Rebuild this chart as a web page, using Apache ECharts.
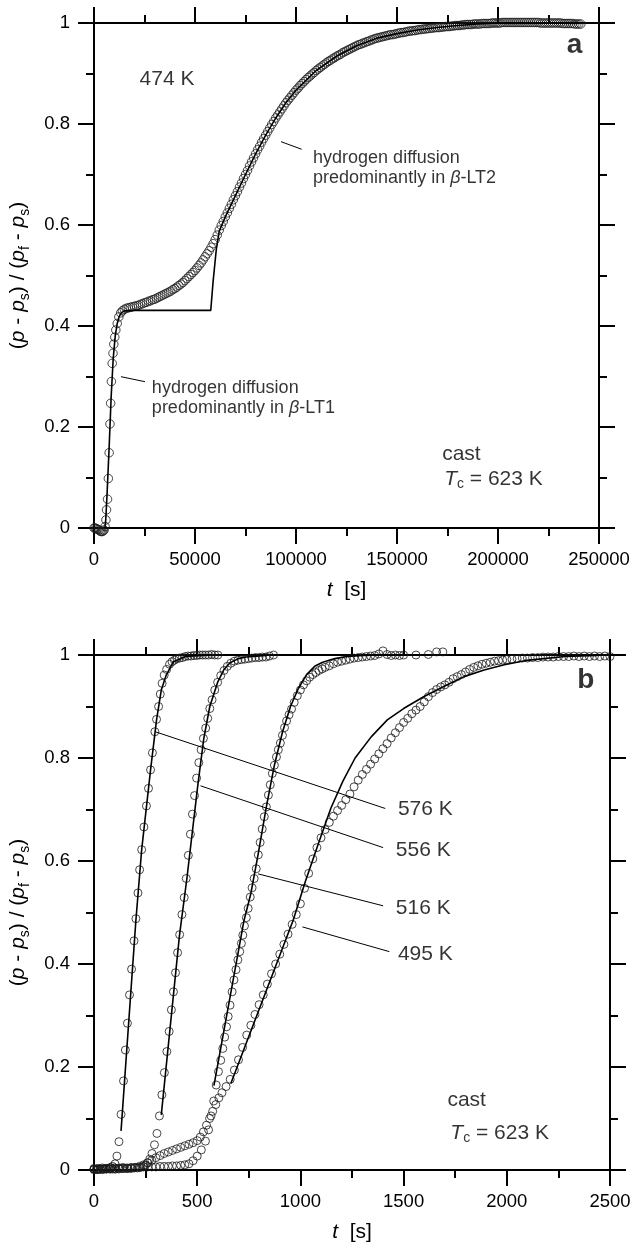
<!DOCTYPE html>
<html><head><meta charset="utf-8">
<script src="https://cdn.jsdelivr.net/npm/echarts@6/dist/echarts.min.js"></script>
<style>html,body{margin:0;padding:0;background:#fff}#c{width:632px;height:1247px}</style>
</head><body><div id="c"></div>
<script>
// ---------------- Panel a data (t in s, normalized pressure) ----------------
const circlesA = [
[0,0],[500,0],[1000,-0.001],[1500,-0.002],[2000,-0.003],[2500,-0.004],[3000,-0.006],[3500,-0.007],[4000,-0.007],[4500,-0.006],[5000,-0.004],[5500,0.003],[5900,0.016],[6200,0.036],[6700,0.057],[7100,0.098],[7500,0.149],[7900,0.206],[8250,0.247],[8600,0.29],[9000,0.326],[9400,0.346],[9800,0.364],[10300,0.378],[10800,0.392],[11500,0.405],[12300,0.418],[13200,0.426],[14000,0.430],
[15000,0.433],[16000,0.435],[17000,0.436],[18000,0.437],[19000,0.438],[20000,0.439],[21000,0.440],[22000,0.441],[23000,0.443],[24000,0.444],[25000,0.446],[26000,0.447],[27000,0.449],[28000,0.450],[29000,0.452],[30000,0.453],[31000,0.455],[32000,0.457],[33000,0.459],[34000,0.461],[35000,0.463],[36000,0.465],[37000,0.467],[38000,0.469],[39000,0.472],[40000,0.474],[41000,0.477],[42000,0.480],[43000,0.483],[44000,0.486],[45000,0.490],[46000,0.494],[47000,0.498],[48000,0.502],[49000,0.506],[50000,0.510],[51000,0.515],[52000,0.520],[53000,0.525],[54000,0.531],[55000,0.537],[56000,0.543],[57000,0.549],[58000,0.556],[59000,0.563],[60000,0.571],[61000,0.580],[62000,0.590],
[63000,0.599],[64000,0.607],[65000,0.616],[66000,0.624],[67000,0.633],[68000,0.641],[69000,0.650],[70000,0.658],[71000,0.666],[72000,0.675],[73000,0.683],[74000,0.692],[75000,0.700],[76000,0.708],[77000,0.717],[78000,0.725],[79000,0.733],[80000,0.741],[81000,0.749],[82000,0.756],[83000,0.764],[84000,0.771],[85000,0.778],[86000,0.785],[87000,0.792],[88000,0.799],[89000,0.805],[90000,0.812],[91000,0.818],[92000,0.824],[93000,0.830],[94000,0.836],[95000,0.842],[96000,0.847],[97000,0.852],[98000,0.857],[99000,0.862],[100000,0.867],[101000,0.871],[102000,0.876],[103000,0.880],[104000,0.884],[105000,0.888],[106000,0.892],[107000,0.895],[108000,0.899],[109000,0.902],[110000,0.906],[111000,0.909],[112000,0.912],[113000,0.915],[114000,0.918],[115000,0.921],[116000,0.924],[117000,0.926],[118000,0.929],[119000,0.931],[120000,0.934],[121000,0.936],[122000,0.938],[123000,0.941],[124000,0.943],[125000,0.945],[126000,0.947],[127000,0.949],[128000,0.951],[129000,0.953],[130000,0.955],[131000,0.957],[132000,0.958],[133000,0.960],[134000,0.961],[135000,0.963],[136000,0.964],[137000,0.966],[138000,0.967],[139000,0.969],[140000,0.970],[141000,0.971],[142000,0.972],[143000,0.973],[144000,0.974],[145000,0.975],[146000,0.976],[147000,0.977],[148000,0.977],[149000,0.978],[150000,0.979],[151000,0.980],[152000,0.981],[153000,0.981],[154000,0.982],[155000,0.983],[156000,0.984],[157000,0.984],[158000,0.985],[159000,0.985],[160000,0.986],[161000,0.987],[162000,0.987],[163000,0.988],[164000,0.988],[165000,0.989],[166000,0.989],[167000,0.990],[168000,0.990],[169000,0.991],[170000,0.991],[171000,0.991],[172000,0.992],[173000,0.992],[174000,0.993],[175000,0.993],[176000,0.993],[177000,0.994],[178000,0.994],[179000,0.995],[180000,0.995],[181000,0.995],[182000,0.996],[183000,0.996],[184000,0.997],[185000,0.997],[186000,0.997],[187000,0.997],[188000,0.998],[189000,0.998],[190000,0.998],[191000,0.998],[192000,0.999],[193000,0.999],[194000,0.999],[195000,0.999],[196000,0.999],[197000,1.000],[198000,1.000],[199000,1.000],[200000,1.000],[201000,1.000],[202000,1.001],[203000,1.001],[204000,1.001],[205000,1.001],[206000,1.001],[207000,1.001],[208000,1.001],[209000,1.001],[210000,1.001],[211000,1.001],[212000,1.001],[213000,1.001],[214000,1.001],[215000,1.001],[216000,1.001],[217000,1.001],[218000,1.001],[219000,1.001],[220000,1.001],[221000,1.000],[222000,1.000],[223000,1.000],[224000,1.000],[225000,1.000],[226000,1.000],[227000,1.000],[228000,1.000],[229000,1.000],[230000,1.000],[231000,1.000],[232000,0.999],[233000,0.999],[234000,0.999],[235000,0.999],[236000,0.999],[237000,0.999],[238000,0.998],[239000,0.998],[240000,0.998],[241000,0.998]
];
const fitA = [[5400,0],[5800,0.015],[6500,0.07],[7500,0.16],[8500,0.26],[9500,0.335],[10500,0.38],[11500,0.405],[12500,0.419],[13500,0.426],[15000,0.43],[20000,0.431],[57800,0.431],[59000,0.49],[60500,0.55],[62000,0.588],[65000,0.616],[70000,0.658],[75000,0.700],[80000,0.741],[85000,0.778],[90000,0.812],[95000,0.842],[100000,0.867],[110000,0.906],[120000,0.934],[130000,0.955],[140000,0.970],[150000,0.979],[160000,0.986],[170000,0.991],[180000,0.995],[190000,0.998],[200000,1.0],[240000,1.0]];
const leadersA = [[[92574,0.765],[102822,0.750]],[[13366,0.2996],[25248,0.2897]]];
const notesA = [
  {t:22300, v:0.889, text:'474 K', size:21},
  {t:108200, v:0.712, text:'hydrogen diffusion\npredominantly in {i|β}-LT2', size:18},
  {t:28400, v:0.257, text:'hydrogen diffusion\npredominantly in {i|β}-LT1', size:18},
  {t:172100, v:0.147, text:'cast', size:21},
  {t:173100, v:0.096, text:'{i|T}{s|c} = 623 K', size:21}
];
const panelLabelA = {t:242000, v:0.956, text:'a'};

// ---------------- Panel b data ----------------
const b576 = [[0,0.001],[10,0.001],[20,0.001],[30,0.002],[40,0.002],[50,0.002],[60,0.003],[70,0.003],[80,0.005],[90,0.007],[102,0.012],[111,0.027],[121,0.055],[131,0.108],[143,0.173],[152,0.233],[162,0.285],[172,0.34],[182,0.39],[194,0.445],[203,0.488],[213,0.538],[221,0.583],[231,0.622],[242,0.666],[254,0.707],[264,0.741],[274,0.777],[283,0.81],[295,0.851],[303,0.875],[313,0.9],[321,0.924],[330,0.945],[340,0.961],[352,0.972],[366,0.982],[378,0.987],[390,0.990],[402,0.993],[414,0.994],[428,0.995],[442,0.997],[456,0.998],[470,0.998],[484,0.999],[498,0.999],[512,1.0],[526,1.0],[540,1.0],[555,1.0],[570,1.001],[585,1.0],[600,1.0]];
const b556 = [[0,0.002],[15,0.002],[30,0.002],[45,0.002],[60,0.002],[75,0.002],[90,0.002],[105,0.002],[120,0.003],[135,0.003],[150,0.003],[165,0.003],[180,0.003],[195,0.004],[210,0.004],[225,0.005],[240,0.007],[250,0.010],[260,0.014],[270,0.021],[281,0.032],[293,0.049],[305,0.071],[317,0.105],[329,0.146],[341,0.189],[353,0.23],[364,0.269],[375,0.311],[385,0.346],[395,0.383],[405,0.422],[415,0.457],[426,0.496],[437,0.529],[447,0.566],[457,0.611],[467,0.652],[477,0.691],[487,0.727],[497,0.761],[508,0.791],[519,0.816],[530,0.838],[541,0.858],[551,0.877],[561,0.896],[572,0.913],[585,0.932],[599,0.947],[614,0.960],[630,0.970],[646,0.978],[663,0.984],[680,0.988],[697,0.990],[714,0.991],[731,0.992],[748,0.993],[765,0.994],[782,0.995],[799,0.995],[816,0.996],[833,0.996],[850,0.998],[870,1.0]];
const b516 = [[0,0.003],[20,0.003],[40,0.004],[60,0.003],[80,0.004],[100,0.004],[120,0.004],[140,0.005],[160,0.004],[180,0.005],[200,0.005],[220,0.005],[240,0.006],[260,0.006],[280,0.006],[300,0.006],[320,0.007],[340,0.007],[360,0.007],[380,0.008],[400,0.008],[420,0.009],[440,0.010],[460,0.012],[480,0.018],[500,0.027],[520,0.039],[540,0.056],[555,0.078],[567,0.105],[580,0.134],[592,0.165],[603,0.191],[614,0.213],[624,0.236],[633,0.258],[642,0.278],[650,0.298],[659,0.32],[669,0.346],[678,0.369],[688,0.389],[697,0.408],[706,0.424],[714,0.44],[721,0.456],[729,0.474],[738,0.49],[747,0.508],[757,0.530],[766,0.548],[776,0.566],[786,0.585],[796,0.612],[805,0.636],[815,0.662],[825,0.686],[835,0.705],[845,0.728],[854,0.748],[864,0.77],[874,0.786],[884,0.802],[893,0.816],[903,0.829],[913,0.844],[923,0.859],[933,0.872],[945,0.884],[957,0.895],[970,0.908],[985,0.921],[1000,0.932],[1015,0.942],[1030,0.950],[1045,0.957],[1060,0.962],[1075,0.966],[1090,0.970],[1105,0.973],[1120,0.976],[1140,0.979],[1160,0.983],[1180,0.986],[1200,0.988],[1220,0.990],[1240,0.992],[1260,0.994],[1280,0.995],[1300,0.996],[1320,0.997],[1340,0.998],[1360,0.999],[1380,1.002],[1400,1.008],[1420,1.001],[1440,0.999],[1460,1.0],[1480,0.999],[1500,1.0],[1560,1.0],[1620,1.001],[1660,1.006],[1690,1.006]];
const b495 = [[0,0.001],[20,0.001],[40,0.001],[60,0.002],[80,0.002],[100,0.002],[120,0.002],[140,0.003],[160,0.003],[180,0.004],[200,0.005],[220,0.007],[240,0.010],[260,0.014],[280,0.019],[300,0.024],[320,0.028],[340,0.032],[360,0.035],[380,0.038],[400,0.041],[420,0.044],[440,0.047],[460,0.050],[480,0.053],[500,0.057],[515,0.064],[530,0.074],[545,0.087],[560,0.100],[575,0.114],[590,0.127],[605,0.140],[620,0.150],[640,0.162],[660,0.176],[680,0.194],[700,0.214],[720,0.238],[740,0.262],[760,0.281],[780,0.302],[800,0.321],[820,0.340],[840,0.361],[860,0.381],[880,0.400],[900,0.419],[920,0.438],[940,0.458],[960,0.477],[980,0.496],[1000,0.517],[1020,0.547],[1040,0.576],[1060,0.604],[1080,0.626],[1100,0.645],[1120,0.661],[1140,0.675],[1160,0.687],[1180,0.698],[1200,0.708],[1220,0.719],[1240,0.730],[1260,0.744],[1280,0.757],[1300,0.768],[1320,0.778],[1340,0.788],[1360,0.798],[1380,0.808],[1400,0.818],[1420,0.828],[1440,0.839],[1460,0.849],[1480,0.859],[1500,0.869],[1520,0.877],[1540,0.886],[1560,0.893],[1580,0.900],[1600,0.909],[1620,0.919],[1640,0.927],[1660,0.933],[1680,0.938],[1700,0.942],[1720,0.947],[1740,0.954],[1760,0.958],[1780,0.962],[1800,0.967],[1820,0.972],[1840,0.976],[1860,0.979],[1880,0.982],[1900,0.984],[1920,0.986],[1940,0.988],[1960,0.989],[1980,0.990],[2000,0.991],[2025,0.992],[2050,0.993],[2075,0.994],[2100,0.994],[2125,0.995],[2150,0.995],[2175,0.996],[2200,0.996],[2225,0.996],[2250,0.997],[2275,0.997],[2300,0.997],[2325,0.998],[2350,0.997],[2375,0.998],[2400,0.997],[2425,0.998],[2450,0.997],[2475,0.998],[2500,0.997]];
const fit576 = [[131,0.076],[203,0.485],[231,0.622],[274,0.777],[303,0.874],[326,0.932],[350,0.961],[385,0.987],[444,0.997],[561,1.0]];
const fit556 = [[326,0.107],[414,0.455],[450,0.566],[502,0.744],[532,0.838],[561,0.9],[600,0.948],[630,0.972],[659,0.985],[700,0.993],[737,0.996],[835,0.999]];
const fit516 = [[581,0.164],[727,0.485],[760,0.537],[796,0.615],[835,0.705],[874,0.786],[913,0.85],[952,0.9],[990,0.935],[1030,0.962],[1069,0.978],[1108,0.986],[1167,0.993],[1226,0.997],[1304,0.999],[1402,1.0],[1500,1.0]];
const fit495 = [[663,0.168],[965,0.485],[1024,0.56],[1089,0.636],[1148,0.703],[1206,0.755],[1265,0.8],[1343,0.841],[1421,0.874],[1500,0.896],[1597,0.919],[1695,0.939],[1793,0.958],[1890,0.971],[1988,0.981],[2086,0.989],[2281,0.997],[2440,0.999]];
const leadersB = [[[297,0.851],[1411,0.702]],[[516,0.746],[1401,0.626]],[[795,0.575],[1401,0.513]],[[1010,0.472],[1431,0.424]]];
const notesB = [
  {t:1470, v:0.701, text:'576 K', size:21},
  {t:1460, v:0.621, text:'556 K', size:21},
  {t:1460, v:0.509, text:'516 K', size:21},
  {t:1470, v:0.419, text:'495 K', size:21},
  {t:1710, v:0.135, text:'cast', size:21},
  {t:1724, v:0.071, text:'{i|T}{s|c} = 623 K', size:21}
];
const panelLabelB = {t:2427, v:0.951, text:'b'};

const xTicksA = {min:0, max:250000, interval:50000};
const xTicksB = {min:0, max:2500, interval:500};
const yTicks = {min:0, max:1, interval:0.2};

// ---------------- styling ----------------
const FONT = "'Liberation Sans', Arial, Helvetica, sans-serif";
const BLACK = '#000';
const richTitle = {
  i: {fontStyle:'italic', fontSize:21, fontFamily:FONT, color:BLACK, lineHeight:28},
  s: {fontSize:14, fontFamily:FONT, color:BLACK, lineHeight:14, verticalAlign:'bottom'}
};
const yName = '({i|p} - {i|p}{s|s}) / ({i|p}{s|f} - {i|p}{s|s})';

function axisCommon(ticks, showLabel, fmt) {
  return {
    type:'value', min:ticks.min, max:ticks.max, interval:ticks.interval,
    axisLine:{show:true, onZero:false, lineStyle:{color:BLACK, width:2}},
    axisTick:{show:true, inside:false, length:16, lineStyle:{color:BLACK, width:2}},
    minorTick:{show:true, splitNumber:2, length:8, lineStyle:{color:BLACK, width:2}},
    splitLine:{show:false}, minorSplitLine:{show:false},
    axisLabel:{show:showLabel, formatter:fmt, fontSize:18.5, fontFamily:FONT, color:BLACK, showMinLabel:true, showMaxLabel:true, hideOverlap:false},
    nameMoveOverlap:false
  };
}
const fx = v => String(v);
const fy = v => String(Math.round(v*10)/10);

function xAxes(gi, ticks) {
  const bottom = Object.assign(axisCommon(ticks, true, fx), {
    gridIndex:gi, position:'bottom',
    name:'{i|t}  [s]', nameLocation:'middle', nameGap:48,
    nameTextStyle:{fontSize:21, fontFamily:FONT, color:BLACK, lineHeight:28, rich:richTitle}
  });
  bottom.axisLabel.margin = 22;
  const top = Object.assign(axisCommon(ticks, false, fx), {gridIndex:gi, position:'top'});
  return [bottom, top];
}
function yAxes(gi, ticks) {
  const left = Object.assign(axisCommon(ticks, true, fy), {
    gridIndex:gi, position:'left',
    name:yName, nameLocation:'middle', nameGap:62, nameRotate:90,
    nameTextStyle:{fontSize:21, fontFamily:FONT, color:BLACK, lineHeight:28, rich:richTitle}
  });
  left.axisLabel.margin = 24;
  const right = Object.assign(axisCommon(ticks, false, fy), {gridIndex:gi, position:'right'});
  return [left, right];
}

function circles(data, xi, yi, size) {
  return {type:'scatter', xAxisIndex:xi, yAxisIndex:yi, data:data, symbol:'circle', symbolSize:size,
    clip:false, silent:true, z:2,
    itemStyle:{color:'rgba(0,0,0,0)', borderColor:'#1a1a1a', borderWidth:1}};
}
function line(data, xi, yi, w) {
  return {type:'line', xAxisIndex:xi, yAxisIndex:yi, data:data, showSymbol:false, symbol:'none',
    clip:false, silent:true, z:3, lineStyle:{color:BLACK, width:w}};
}
function notes(list, xi, yi) {
  return {type:'scatter', xAxisIndex:xi, yAxisIndex:yi, symbolSize:1, silent:true, z:5,
    itemStyle:{color:'rgba(0,0,0,0)'},
    data:list.map(n => {
      const lh = Math.round(n.size * 1.12);
      return {value:[n.t, n.v], name:n.text,
        label:{fontSize:n.size, lineHeight:lh,
          rich:{i:{fontStyle:'italic', fontSize:n.size, fontFamily:FONT, color:BLACK, lineHeight:lh},
                s:{fontSize:Math.round(n.size*0.66), fontFamily:FONT, color:BLACK, lineHeight:Math.round(n.size*0.66), verticalAlign:'bottom'}}}};
    }),
    label:{show:true, position:'right', distance:0, formatter:p => p.name,
      fontFamily:FONT, color:BLACK, align:'left', verticalAlign:'middle'}};
}
function panelLabel(n, xi, yi) {
  return {type:'scatter', xAxisIndex:xi, yAxisIndex:yi, symbolSize:1, silent:true, z:5,
    itemStyle:{color:'rgba(0,0,0,0)'},
    data:[{value:[n.t, n.v], name:n.text}],
    label:{show:true, position:'left', distance:0, formatter:p => p.name,
      fontSize:28, fontWeight:'bold', fontFamily:FONT, color:BLACK}};
}

const series = [];
series.push(line(fitA, 0, 0, 1.6));
series.push(circles(circlesA, 0, 0, 8.5));
leadersA.forEach(l => series.push(line(l, 0, 0, 1)));
series.push(notes(notesA, 0, 0));
series.push(panelLabel(panelLabelA, 0, 0));

[fit576, fit556, fit516, fit495].forEach(f => series.push(line(f, 2, 2, 1.6)));
[b576, b556, b516, b495].forEach(d => series.push(circles(d, 2, 2, 8)));
leadersB.forEach(l => series.push(line(l, 2, 2, 1)));
series.push(notes(notesB, 2, 2));
series.push(panelLabel(panelLabelB, 2, 2));

const option = {
  animation:false,
  backgroundColor:'#fff',
  grid:[
    {left:94, top:23, width:505, height:505, containLabel:false, outerBoundsMode:'none'},
    {left:94, top:655, width:516, height:515, containLabel:false, outerBoundsMode:'none'}
  ],
  xAxis:[...xAxes(0, xTicksA), ...xAxes(1, xTicksB)],
  yAxis:[...yAxes(0, yTicks), ...yAxes(1, yTicks)],
  series:series
};
const chart = echarts.init(document.getElementById('c'), null, {renderer:'canvas'});
chart.setOption(option);
</script></body></html>
